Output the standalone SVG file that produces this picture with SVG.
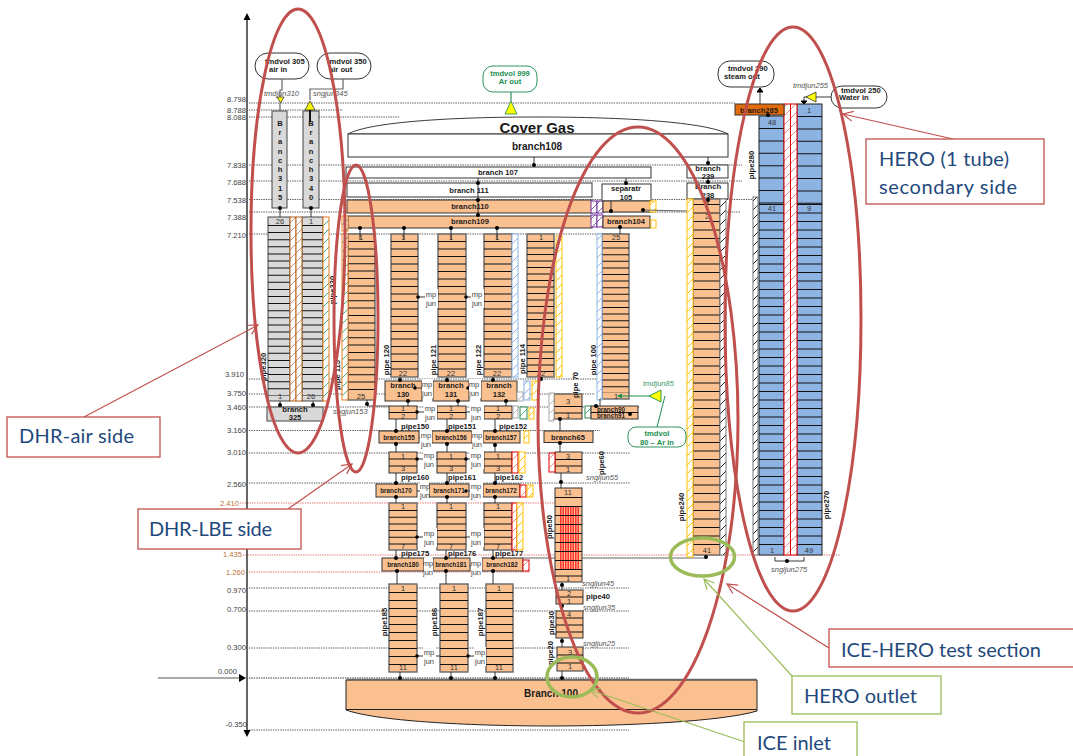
<svg xmlns="http://www.w3.org/2000/svg" width="1073" height="756" viewBox="0 0 1073 756">
<style>
text{font-family:"Liberation Sans",Arial,sans-serif;fill:#1a1a1a}
.lv{font-size:7.6px;fill:#404040;text-anchor:end}
.lvb{font-size:7.6px;fill:#b9703a;text-anchor:end}
.l{stroke:#333;stroke-width:.8;stroke-dasharray:1.4 1;fill:none}
.lb{stroke:#e05050;stroke-width:.8;stroke-dasharray:1.4 1;fill:none}
.b{font-size:7.6px;font-weight:bold;text-anchor:middle}
.bs{font-size:6.3px;font-weight:bold;text-anchor:middle}
.st{font-size:7.6px;font-weight:bold}
.stg{font-size:7.6px;font-weight:bold;fill:#1a8f50;text-anchor:middle}
.n{font-size:7.5px;fill:#333;text-anchor:middle}
.i{font-size:7.5px;font-style:italic;fill:#555}
.ig{font-size:7.5px;font-style:italic;fill:#3a9a68}
.r{font-size:7.6px;font-weight:bold;text-anchor:middle}
.mj{font-size:7.5px;fill:#444;text-anchor:middle}
.o{fill:#fac090;stroke:#333;stroke-width:1}
.g{fill:#d9d9d9;stroke:#444;stroke-width:1}
.w{fill:#fff;stroke:#333;stroke-width:1}
.bl{fill:#8db3e2;stroke:#222;stroke-width:1}
.sg{fill:#fac090;stroke:#666;stroke-width:1.4}
.c{fill:none;stroke:#111}
.rv{fill:#fff;stroke:#333;stroke-width:1}
.rvg{fill:#fff;stroke:#2e9460;stroke-width:1}
.y{fill:#ff0;stroke:#333;stroke-width:.8}
.cn{fill:none;stroke:#222;stroke-width:.9}
.cg{fill:none;stroke:#666;stroke-width:1.2}
.d{fill:#000}
.e{fill:none;stroke:#c0504d;stroke-width:3}
.eg{fill:none;stroke:#9bbb59;stroke-width:3.5}
.cbr{fill:#fff;stroke:#c0504d;stroke-width:1.3}
.cbg{fill:#fff;stroke:#9bbb59;stroke-width:1.3}
.ct{font-family:Lato,"Liberation Sans",sans-serif;font-size:20px;fill:#1f497d}
.ar{fill:none;stroke:#c0504d;stroke-width:1.2;marker-end:url(#mr)}
.ag{fill:none;stroke:#9bbb59;stroke-width:1.2;marker-end:url(#mg)}
.hY{fill:url(#phY);stroke:#ffc000;stroke-width:1}
.hB{fill:url(#phB);stroke:#8db4e2;stroke-width:1}
.hG{fill:url(#phG);stroke:#e87d1e;stroke-width:1}
.hGg{fill:url(#phG);stroke:#2e8b57;stroke-width:1}
.hP{fill:url(#phP);stroke:#7030a0;stroke-width:1}
.hR{fill:url(#phR);stroke:#e00000;stroke-width:1}
.hBr{fill:url(#phBr);stroke:#b5651d;stroke-width:1}
.hK{fill:url(#phK);stroke:#777;stroke-width:1}
.hGy{fill:url(#phGy);stroke:#aaa;stroke-width:1}
</style>
<defs>
<pattern id="phY" patternUnits="userSpaceOnUse" width="9" height="9"><rect width="9" height="9" fill="#fff"/><path d="M-1 10L10 -1" stroke="#ffc000" stroke-width="1"/></pattern>
<pattern id="phB" patternUnits="userSpaceOnUse" width="9" height="9"><rect width="9" height="9" fill="#fff"/><path d="M-1 10L10 -1" stroke="#8db4e2" stroke-width="1"/></pattern>
<pattern id="phG" patternUnits="userSpaceOnUse" width="9" height="9"><rect width="9" height="9" fill="#fff"/><path d="M-1 10L10 -1" stroke="#40b070" stroke-width="1"/></pattern>
<pattern id="phP" patternUnits="userSpaceOnUse" width="9" height="9"><rect width="9" height="9" fill="#fff"/><path d="M-1 10L10 -1" stroke="#8a5cb0" stroke-width="1"/></pattern>
<pattern id="phR" patternUnits="userSpaceOnUse" width="9" height="9"><rect width="9" height="9" fill="#fff"/><path d="M-1 10L10 -1" stroke="#e88" stroke-width="1"/></pattern>
<pattern id="phBr" patternUnits="userSpaceOnUse" width="9" height="9"><rect width="9" height="9" fill="#fff"/><path d="M-1 10L10 -1" stroke="#d09070" stroke-width="1"/></pattern>
<pattern id="phK" patternUnits="userSpaceOnUse" width="9" height="9"><rect width="9" height="9" fill="#fff"/><path d="M-1 10L10 -1" stroke="#222" stroke-width="1"/></pattern>
<pattern id="phGy" patternUnits="userSpaceOnUse" width="9" height="9"><rect width="9" height="9" fill="#fff"/><path d="M-1 10L10 -1" stroke="#bbb" stroke-width="1"/></pattern>
<marker id="mr" markerUnits="userSpaceOnUse" markerWidth="14" markerHeight="14" refX="11" refY="6" orient="auto"><path d="M1 1L11 6L1 11" fill="none" stroke="#c0504d" stroke-width="1.2"/></marker>
<marker id="mg" markerUnits="userSpaceOnUse" markerWidth="14" markerHeight="14" refX="11" refY="6" orient="auto"><path d="M1 1L11 6L1 11" fill="none" stroke="#9bbb59" stroke-width="1.2"/></marker>
</defs>
<rect width="1073" height="756" fill="#fff"/>

<g id="levels">
<path class="l" d="M249 103H735M249 110H343M249 117H400M249 165H742M249 181H742M249 199.500H755M249 212H740M249 234H630M249 379H600M249 394H595M249 407H640M249 430.500H600M249 453H630M249 483H630M249 588H629M249 611H629M249 648H629M249 730H629"/>
<path class="l" d="M249 678H629" style="stroke-width:1.4;stroke:#777"/>
<path class="lb" d="M240 503H556M243 555H840M249 572H530"/>
<text class="lv" x="246" y="102">8.798</text><text class="lv" x="246" y="113">8.788</text><text class="lv" x="246" y="120">8.088</text><text class="lv" x="246" y="168">7.838</text><text class="lv" x="246" y="185">7.688</text><text class="lv" x="246" y="203">7.538</text><text class="lv" x="246" y="220">7.388</text><text class="lv" x="246" y="238">7.210</text><text class="lv" x="244" y="377">3.910</text><text class="lv" x="246" y="396">3.750</text><text class="lv" x="246" y="410">3.460</text><text class="lv" x="246" y="433">3.160</text><text class="lv" x="246" y="455">3.010</text><text class="lv" x="246" y="487">2.560</text>
<text class="lvb" x="239" y="506">2.410</text><text class="lvb" x="242" y="557">1.435</text><text class="lvb" x="245" y="575">1.260</text>
<text class="lv" x="246" y="593">0.970</text><text class="lv" x="246" y="612">0.700</text><text class="lv" x="246" y="650">0.300</text><text class="lv" x="237" y="674">0.000</text><text class="lv" x="247" y="727">-0.350</text>
<path d="M247 732V19" stroke="#000" stroke-width="1.2" fill="none"/>
<path d="M243.500 20L247 13L250.500 20Z M243.500 730L247 737L250.500 730Z" fill="#000"/>
<path d="M158 678H240" stroke="#555" stroke-width="1.2"/>
<path d="M239 674L246 678L239 682Z" fill="#000"/>
</g>

<g id="tmdvol305"><rect class="rv" x="255" y="53" width="54" height="26" rx="13"/><text class="st" x="265" y="64">tmdvol 305</text><text class="st" x="269" y="71.500">air in</text></g>
<g id="tmdvol350"><rect class="rv" x="317" y="53" width="54" height="26" rx="13"/><text class="st" x="327" y="64">tmdvol 350</text><text class="st" x="329" y="71.500">air out</text></g>
<g id="branch315"><rect class="g" x="272" y="111" width="15" height="97"/><text class="b" x="280" y="126">B</text><text class="b" x="280" y="135">r</text><text class="b" x="280" y="144">a</text><text class="b" x="280" y="154">n</text><text class="b" x="280" y="163">c</text><text class="b" x="280" y="172">h</text><text class="b" x="280" y="181">3</text><text class="b" x="280" y="191">1</text><text class="b" x="280" y="200">5</text></g>
<g id="branch340"><rect class="g" x="303" y="111" width="16" height="97"/><text class="b" x="311" y="126">B</text><text class="b" x="311" y="135">r</text><text class="b" x="311" y="144">a</text><text class="b" x="311" y="154">n</text><text class="b" x="311" y="163">c</text><text class="b" x="311" y="172">h</text><text class="b" x="311" y="181">3</text><text class="b" x="311" y="191">4</text><text class="b" x="311" y="200">0</text></g>
<g id="pipe320"><rect class="g" x="268" y="217" width="22" height="184"/><path class="c" d="M279 225V396" stroke-width="22" stroke-dasharray="1 6.1"/><text class="n" x="280" y="224">26</text><text class="n" x="280" y="399">1</text><text class="r" transform="rotate(-90 266 367)" x="266" y="367">pipe320</text></g>
<g id="pipe330"><rect class="g" x="302" y="217" width="21" height="184"/><path class="c" d="M312.500 225V396" stroke-width="21" stroke-dasharray="1 6.1"/><text class="n" x="311" y="224">1</text><text class="n" x="311" y="399">26</text><text class="r" transform="rotate(-90 335 290)" x="335" y="290">pipe330</text></g>
<rect class="hBr" x="290" y="217" width="6" height="184"/><rect class="hBr" x="296" y="217" width="6" height="184"/><rect class="hG" x="323" y="217" width="6" height="184"/>
<g id="branch325"><rect class="g" x="267" y="407" width="56" height="14"/><text class="b" x="295" y="412">branch</text><text class="b" x="295" y="420">325</text></g>

<g id="tmdvol999"><rect class="rvg" x="483" y="66" width="54" height="26" rx="10"/><text class="stg" x="510" y="76">tmdvol 999</text><text class="stg" x="510" y="84">Ar out</text></g>
<g id="branch108"><path d="M348 134C370 122 450 117 537 117C625 117 705 122 728 134Z" fill="#fff" stroke="#222" stroke-width=".9"/><rect class="w" x="348" y="134" width="380" height="23"/><text x="537" y="133" font-size="15" font-weight="bold" text-anchor="middle" fill="#000">Cover Gas</text><text x="537" y="150" font-size="10" font-weight="bold" text-anchor="middle">branch108</text></g>
<g id="branch107"><rect class="w" x="346" y="167" width="305" height="11"/><text class="b" x="498" y="175">branch 107</text></g>
<g id="branch111"><rect class="w" x="347" y="183" width="245" height="14"/><text class="b" x="469" y="193">branch 111</text></g>
<g id="branch110"><rect class="o" x="347" y="200" width="245" height="13"/><text class="b" x="470" y="209">branch110</text></g>
<g id="branch109"><rect class="o" x="348" y="216" width="244" height="12"/><text class="b" x="470" y="224">branch109</text></g>
<rect class="hP" x="591" y="201" width="6" height="12"/><rect class="hP" x="597" y="201" width="6" height="12"/><rect class="hP" x="591" y="215" width="6" height="12"/><rect class="hP" x="597" y="215" width="6" height="12"/>
<g id="separatr105"><rect class="w" x="602" y="184" width="49" height="17"/><text class="b" x="626" y="191">separatr</text><text class="b" x="626" y="200">105</text><rect class="o" x="603" y="201" width="48" height="11"/><rect class="hY" x="650" y="201" width="6" height="11"/></g>
<g id="branch104"><rect class="o" x="603" y="216" width="47" height="12"/><text class="b" x="626" y="224">branch104</text><rect x="651" y="220" width="5" height="8" fill="#fff" stroke="#ffc000"/></g>

<g id="pipe115"><rect class="sg" x="348" y="234" width="27" height="166"/><path class="c" d="M361.500 241V396" stroke-width="27" stroke-dasharray="1 6.4"/><text class="n" x="361" y="240">1</text><text class="n" x="361" y="399">25</text><text class="r" transform="rotate(-90 340 375)" x="340" y="375">pipe 115</text><rect class="hG" x="342" y="216" width="6" height="15"/><rect class="hG" x="342" y="234" width="6" height="166"/></g>
<g id="pipe120"><rect class="sg" x="391" y="234" width="27" height="143"/><path class="c" d="M404.500 241V372" stroke-width="27" stroke-dasharray="1 6.5"/><text class="n" x="403" y="240">1</text><text class="n" x="403" y="376">22</text><text class="r" transform="rotate(-90 389 360)" x="389" y="360">pipe 120</text></g>
<g id="pipe121"><rect class="sg" x="438" y="234" width="28" height="143"/><path class="c" d="M452 241V372" stroke-width="28" stroke-dasharray="1 6.5"/><text class="n" x="451" y="240">1</text><text class="n" x="451" y="376">22</text><text class="r" transform="rotate(-90 436 360)" x="436" y="360">pipe 121</text></g>
<g id="pipe122"><rect class="sg" x="484" y="234" width="28" height="143"/><path class="c" d="M498 241V372" stroke-width="28" stroke-dasharray="1 6.5"/><text class="n" x="497" y="240">1</text><text class="n" x="497" y="376">22</text><text class="r" transform="rotate(-90 481 360)" x="481" y="360">pipe 122</text><rect class="hB" x="512" y="234" width="6" height="143"/></g>
<g id="pipe114"><rect class="sg" x="527" y="234" width="27" height="143"/><path class="c" d="M540.500 241V373" stroke-width="27" stroke-dasharray="1 5.500"/><text class="n" x="541" y="240">1</text><text class="n" x="541" y="376">22</text><text class="r" transform="rotate(-90 525 359)" x="525" y="359">pipe 114</text><rect class="hY" x="556" y="236" width="6" height="141"/></g>
<g id="pipe100"><rect class="sg" x="602" y="234" width="27" height="165"/><path class="c" d="M615.500 241V393" stroke-width="27" stroke-dasharray="1 5.600"/><text class="n" x="616" y="240">25</text><text class="n" x="616" y="399">1</text><text class="r" transform="rotate(-90 596 360)" x="596" y="360">pipe 100</text><rect class="hB" x="597" y="234" width="5" height="166"/></g>

<g id="branch130"><rect class="o" x="385" y="381" width="37" height="20"/><text class="b" x="403" y="388">branch</text><text class="b" x="403" y="397">130</text></g>
<g id="branch131"><rect class="o" x="433" y="381" width="36" height="20"/><text class="b" x="451" y="388">branch</text><text class="b" x="451" y="397">131</text></g>
<g id="branch132"><rect class="o" x="481" y="381" width="36" height="20"/><text class="b" x="499" y="388">branch</text><text class="b" x="499" y="397">132</text></g>
<rect class="hGy" x="517" y="392" width="6" height="9"/><rect class="hB" x="524" y="381" width="6" height="19"/><rect class="hY" x="532" y="381" width="6" height="19"/>

<g id="pipe150"><rect class="o" x="389" y="406" width="28" height="13"/><path class="c" d="M389 412.500H417"/><text class="n" x="403" y="411">1</text><text class="n" x="403" y="418.500">2</text><text class="st" x="401" y="429">pipe150</text></g>
<g id="pipe151"><rect class="o" x="437" y="406" width="29" height="13"/><path class="c" d="M437 412.500H466"/><text class="n" x="451" y="411">1</text><text class="n" x="451" y="418.500">2</text><text class="st" x="448" y="429">pipe151</text></g>
<g id="pipe152"><rect class="o" x="484" y="406" width="28" height="13"/><path class="c" d="M484 412.500H512"/><text class="n" x="498" y="411">1</text><text class="n" x="498" y="418.500">2</text><text class="st" x="499" y="429">pipe152</text><rect class="hGy" x="513" y="406" width="5" height="12"/><rect class="hGg" x="520" y="407" width="7" height="12"/><rect class="hY" x="529" y="408" width="5" height="11"/></g>

<g id="branch155"><rect class="o" x="379" y="431" width="40" height="12"/><text class="bs" x="399" y="439.500">branch155</text></g>
<g id="branch156"><rect class="o" x="432" y="431" width="40" height="12"/><text class="bs" x="451" y="439.500">branch156</text></g>
<g id="branch157"><rect class="o" x="483" y="431" width="37" height="12"/><text class="bs" x="501" y="439.500">branch157</text><rect class="hY" x="524" y="431" width="5" height="12"/></g>

<g id="pipe160"><rect class="o" x="389" y="452" width="28" height="21"/><path class="c" d="M389 459H417M389 466H417"/><text class="n" x="403" y="458.500">1</text><text class="n" x="403" y="471">3</text><text class="st" x="401" y="480">pipe160</text></g>
<g id="pipe161"><rect class="o" x="437" y="452" width="29" height="21"/><path class="c" d="M437 459H466M437 466H466"/><text class="n" x="451" y="458.500">1</text><text class="n" x="451" y="471">3</text><text class="st" x="448" y="480">pipe161</text></g>
<g id="pipe162"><rect class="o" x="484" y="452" width="28" height="21"/><path class="c" d="M484 459H512M484 466H512"/><text class="n" x="498" y="458.500">1</text><text class="n" x="498" y="471">3</text><text class="st" x="495" y="480">pipe162</text><rect class="hR" x="512" y="452" width="6" height="21"/><rect class="hY" x="519" y="452" width="6" height="21"/></g>

<g id="branch170"><rect class="o" x="376" y="484" width="41" height="13"/><text class="bs" x="396" y="493">branch170</text></g>
<g id="branch171"><rect class="o" x="429" y="484" width="40" height="13"/><text class="bs" x="449" y="493">branch171</text></g>
<g id="branch172"><rect class="o" x="483" y="484" width="37" height="13"/><text class="bs" x="501" y="493">branch172</text><rect class="hR" x="520" y="485" width="6" height="12"/><rect class="hY" x="527" y="485" width="6" height="12"/></g>

<g id="pipe175"><rect class="sg" x="389" y="503" width="28" height="47"/><path class="c" d="M403 510V545" stroke-width="28" stroke-dasharray="1 5.700"/><text class="n" x="403" y="509">1</text><text class="n" x="403" y="549">7</text><text class="st" x="401" y="556">pipe175</text></g>
<g id="pipe176"><rect class="sg" x="437" y="503" width="29" height="47"/><path class="c" d="M451.500 510V545" stroke-width="29" stroke-dasharray="1 5.700"/><text class="n" x="451" y="509">1</text><text class="n" x="451" y="549">7</text><text class="st" x="448" y="556">pipe176</text></g>
<g id="pipe177"><rect class="sg" x="484" y="503" width="28" height="47"/><path class="c" d="M498 510V545" stroke-width="28" stroke-dasharray="1 5.700"/><text class="n" x="498" y="509">1</text><text class="n" x="498" y="549">7</text><text class="st" x="495" y="556">pipe177</text><rect class="hR" x="512" y="503" width="5" height="47"/><rect class="hY" x="517" y="503" width="6" height="47"/></g>

<g id="branch180"><rect class="o" x="382" y="558" width="42" height="13"/><text class="bs" x="403" y="567">branch180</text></g>
<g id="branch181"><rect class="o" x="433" y="558" width="37" height="13"/><text class="bs" x="451" y="567">branch181</text></g>
<g id="branch182"><rect class="o" x="482" y="558" width="41" height="13"/><text class="bs" x="502" y="567">branch182</text><rect class="hR" x="523" y="560" width="6" height="11"/></g>

<g id="pipe185"><rect class="sg" x="389" y="584" width="28" height="88"/><path class="c" d="M403 592V665" stroke-width="28" stroke-dasharray="1 7"/><text class="n" x="403" y="591">1</text><text class="n" x="403" y="670">11</text><text class="r" transform="rotate(-90 387 622)" x="387" y="622">pipe185</text></g>
<g id="pipe186"><rect class="sg" x="440" y="584" width="28" height="88"/><path class="c" d="M454 592V665" stroke-width="28" stroke-dasharray="1 7"/><text class="n" x="454" y="591">1</text><text class="n" x="454" y="670">11</text><text class="r" transform="rotate(-90 437 622)" x="437" y="622">pipe186</text></g>
<g id="pipe187"><rect class="sg" x="486" y="584" width="27" height="88"/><path class="c" d="M499.500 592V665" stroke-width="27" stroke-dasharray="1 7"/><text class="n" x="499" y="591">1</text><text class="n" x="499" y="670">11</text><text class="r" transform="rotate(-90 483 622)" x="483" y="622">pipe187</text></g>

<g id="branch100"><path d="M346 680H757V711C720 722 620 726 551 726C480 726 380 722 346 710Z" fill="#fac090" stroke="#222" stroke-width="1"/><path d="M346 709.500H757" stroke="#222"/><path d="M346 679.500H757" stroke="#666" stroke-width="1.400"/><text x="551" y="697" font-size="10" font-weight="bold" text-anchor="middle">Branch 100</text></g>

<path class="cg" d="M523 558H706" stroke-width="1.5"/>
<g id="pipe70"><rect class="o" x="554" y="394" width="28" height="25"/><path class="c" d="M554 406.500H582M554 413H582"/><text class="n" x="568" y="404">3</text><text class="n" x="568" y="418">1</text><text class="r" transform="rotate(-90 578 385)" x="578" y="385">pipe 70</text><rect class="hGy" x="549" y="393" width="5" height="28"/><rect class="hGg" x="585" y="406" width="6" height="12"/></g>
<g id="branch90"><rect class="o" x="591" y="406" width="47" height="13"/><path class="c" d="M591 412.500H638"/><text class="bs" x="611" y="411.500">branch90</text><text class="bs" x="611" y="418">branch91</text></g>
<g id="branch65"><rect class="o" x="544" y="431" width="49" height="11.500"/><text class="b" x="568" y="439.500">branch65</text></g>
<g id="pipe60"><rect class="o" x="555" y="452" width="27" height="21"/><path class="c" d="M555 459.500H582M555 466H582"/><text class="n" x="568" y="458.500">3</text><text class="n" x="568" y="472">1</text><rect class="hR" x="549" y="453" width="6" height="19"/><text class="r" transform="rotate(-90 604 463)" x="604" y="463">pipe60</text></g>
<g id="pipe50"><rect class="o" x="555" y="488" width="27" height="94"/><path d="M560 537.500H580" stroke="#f33" stroke-width="63" stroke-dasharray="1.500 1"/><path class="c" d="M568.500 497V571" stroke-width="27" stroke-dasharray="1 8"/><path class="c" d="M555 576H582"/><text class="n" x="568" y="495">11</text><text class="n" x="568" y="581">1</text><text class="r" transform="rotate(-90 552 527)" x="552" y="527">pipe50</text></g>
<g id="pipe40"><rect class="o" x="556" y="590" width="27" height="14"/><path class="c" d="M556 597H583"/><text class="n" x="569" y="595.500">2</text><text class="n" x="569" y="603.500">1</text><text class="st" x="586" y="599">pipe40</text></g>
<g id="pipe30"><rect class="o" x="556" y="611" width="27" height="27"/><path class="c" d="M556 618H583M556 625H583M556 632H583"/><text class="n" x="569" y="617">4</text><text class="r" transform="rotate(-90 554 623)" x="554" y="623">pipe30</text></g>
<g id="pipe20"><rect class="o" x="557" y="647" width="26" height="24"/><path class="c" d="M557 655H583M557 663H583"/><text class="n" x="570" y="655">3</text><text class="n" x="570" y="669">1</text><text class="r" transform="rotate(-90 553 653)" x="553" y="653">pipe20</text></g>

<g id="branch239"><rect class="w" x="687" y="165" width="41" height="13"/><text class="b" x="708" y="171">branch</text><text class="b" x="708" y="179">239</text></g>
<g id="branch238"><rect class="w" x="687" y="183" width="41" height="16"/><text class="b" x="708" y="189">Branch</text><text class="b" x="708" y="198">238</text></g>
<g id="pipe240"><rect class="sg" x="693" y="199" width="27" height="356"/><path class="c" d="M706.500 204V548" stroke-width="27" stroke-dasharray="1 7.500"/><text class="n" x="707" y="219">2</text><text class="n" x="707" y="553">41</text><text class="r" transform="rotate(-90 684 507)" x="684" y="507">pipe240</text><rect class="hY" x="687" y="199" width="6" height="358"/><rect class="hK" x="720" y="199" width="6" height="356"/></g>

<g id="pipe280"><rect class="bl" x="759" y="116" width="25" height="439"/><path class="c" d="M771.500 128V204" stroke-width="25" stroke-dasharray="1 11.400"/><path class="c" d="M771.500 204V548" stroke-width="25" stroke-dasharray="1 7.500"/><text class="n" x="772" y="125">48</text><text class="n" x="772" y="211">41</text><text class="n" x="772" y="553">1</text><text class="r" transform="rotate(-90 754 165)" x="754" y="165">pipe280</text><rect class="hK" x="753" y="197" width="5" height="358"/></g>
<g id="pipe270"><rect class="bl" x="797" y="104" width="25" height="451"/><path class="c" d="M809.500 116V204" stroke-width="25" stroke-dasharray="1 11.400"/><path class="c" d="M809.500 204V548" stroke-width="25" stroke-dasharray="1 7.500"/><text class="n" x="809" y="113">1</text><text class="n" x="809" y="211">9</text><text class="n" x="809" y="553">49</text><text class="r" transform="rotate(-90 829 505)" x="829" y="505">pipe270</text></g>
<rect class="hR" x="784" y="104" width="6.500" height="451"/><rect class="hR" x="790.500" y="104" width="6.500" height="451"/>
<g id="branch285"><rect x="735" y="104" width="49" height="11" fill="#e36c0a" stroke="#333"/><text class="b" x="759" y="112.500">branch285</text></g>
<g id="tmdvol290"><rect class="rv" x="718" y="61" width="56" height="26" rx="12"/><text class="st" x="728" y="71">tmdvol 290</text><text class="st" x="724" y="79">steam out</text></g>
<g id="tmdvol250"><rect class="rv" x="831" y="86" width="56" height="22" rx="11"/><text class="st" x="841" y="93">tmdvol 250</text><text class="st" x="839" y="100">Water in</text></g>
<g id="tmdvol80"><rect class="rvg" x="628" y="427" width="58" height="20" rx="8"/><text class="stg" x="657" y="436">tmdvol</text><text class="stg" x="657" y="445">80 – Ar in</text></g>

<g id="connectors">
<path class="cg" d="M282 79V90H280V97M280 103V111"/>
<polygon class="y" points="277,97 284,97 280.500,103"/>
<path class="cg" d="M343 79V89H310V100"/>
<polygon class="y" points="305,110 315,110 310,101"/>
<path d="M310 110V122" stroke="#000" stroke-width="1.800"/>
<path class="cn" d="M280 208V217M311 208V217M280 401V406M313 401V406"/>
<path class="cg" d="M511 92V101" style="stroke:#2e9460"/>
<polygon points="505,114 517,114 511,101" fill="#ff0" stroke="#2e9460" stroke-width=".9"/>
<path class="cn" d="M534 157V167M478 178V216M626 178V184M708 157V165M708 178V183M708 199V204"/>
<path class="cn" d="M611 201V211M620 227V234M360 228V240M404 228V240M451 228V240M497 228V240"/>
<path class="cg" d="M643 210L687 211"/>
<path class="cn" d="M400 377V381M447 377V381M493 377V381M408 401V406M458 401V406M506 401V406M396 419V431M447 419V431M495 419V431M396 443V452M447 443V452M495 443V452M396 473V484M447 473V484M495 473V484M396 497V503M447 497V503M495 497V503M396 550V558M446 550V558M493 550V558M397 571V584M446 571V584M493 571V584M400 672V678M451 672V678M495 672V678"/>
<path class="cn" d="M367 400V404M540 377V381"/>
<path class="cg" d="M367 406H389"/>
<path class="cn" d="M560 419V431M560 442V452M561 473V488M562 582V590M562 604V611M562 638V647M562 671V679M600 399V406"/>
<path class="cn" d="M418 297H438M466 297H484M417 388H433M469 388H481M417 412H437M466 412H484M419 438H432M472 438H483M417 459H437M466 459H484M417 491H429M469 491H483M417 537H437M466 537H484M424 566H433M470 566H482M417 656H440M468 656H486"/>
<path class="cn" d="M760 104V90M804 104V97H808"/>
<path d="M757 92L760 88L763 92Z" fill="#000" stroke="#000"/>
<path d="M801 101H807L804 104Z" fill="#000" stroke="#000"/>
<path class="cn" d="M816 97H831"/>
<polygon class="y" points="806,97 816,92 816,102"/>
<path d="M768 115V117" stroke="#000"/>
<path d="M775 557V561H804V557" class="cn"/>
<path d="M661 396H618" stroke="#1a8f50" stroke-width="1" fill="none"/>
<path d="M622 393.500L617 396L622 398.500Z" fill="#1a8f50"/>
<polygon points="649,396 661,390 661,402" fill="#ff0" stroke="#1a8f50" stroke-width=".9"/>
<path d="M665 396L657 427" stroke="#1a8f50" stroke-width="1" fill="none"/>
<g class="d">
<circle cx="280" cy="208" r="2"/><circle cx="311" cy="208" r="2"/><circle cx="280" cy="405" r="2"/><circle cx="313" cy="405" r="2"/>
<circle cx="534" cy="165" r="2"/><circle cx="478" cy="183" r="2"/><circle cx="478" cy="200" r="2"/><circle cx="478" cy="215" r="2"/><circle cx="626" cy="183" r="2"/><circle cx="611" cy="211" r="2"/><circle cx="643" cy="210" r="2"/><circle cx="620" cy="227" r="2"/>
<circle cx="360" cy="228" r="2"/><circle cx="404" cy="228" r="2"/><circle cx="451" cy="228" r="2"/><circle cx="497" cy="228" r="2"/>
<circle cx="400" cy="380" r="2"/><circle cx="447" cy="380" r="2"/><circle cx="493" cy="380" r="2"/><circle cx="541" cy="379" r="2"/><circle cx="367" cy="404" r="2"/>
<circle cx="408" cy="401" r="2"/><circle cx="458" cy="401" r="2"/><circle cx="506" cy="401" r="2"/>
<circle cx="396" cy="431" r="2"/><circle cx="447" cy="431" r="2"/><circle cx="495" cy="431" r="2"/>
<circle cx="396" cy="444" r="2"/><circle cx="447" cy="444" r="2"/><circle cx="495" cy="445" r="2"/>
<circle cx="396" cy="483" r="2"/><circle cx="447" cy="483" r="2"/><circle cx="495" cy="483" r="2"/>
<circle cx="396" cy="497" r="2"/><circle cx="447" cy="497" r="2"/><circle cx="495" cy="497" r="2"/>
<circle cx="396" cy="558" r="2"/><circle cx="446" cy="558" r="2"/><circle cx="493" cy="558" r="2"/>
<circle cx="397" cy="571" r="2"/><circle cx="446" cy="571" r="2"/><circle cx="493" cy="571" r="2"/>
<circle cx="400" cy="678" r="2"/><circle cx="451" cy="678" r="2"/><circle cx="495" cy="678" r="2"/>
<circle cx="560" cy="443" r="2"/><circle cx="560" cy="419" r="2"/><circle cx="561" cy="482" r="2"/><circle cx="562" cy="585" r="2"/><circle cx="562" cy="606" r="2"/><circle cx="562" cy="641" r="2"/><circle cx="562" cy="678" r="2"/>
<circle cx="596" cy="406" r="2"/><circle cx="630" cy="414" r="2"/>
<circle cx="708" cy="163" r="2"/><circle cx="708" cy="182" r="2"/><circle cx="708" cy="200" r="2"/><circle cx="706" cy="557" r="2"/>
<circle cx="768" cy="115" r="2"/><circle cx="787" cy="561" r="2"/>
<circle cx="418" cy="297" r="1.800"/><circle cx="466" cy="297" r="1.800"/><circle cx="415" cy="388" r="1.800"/><circle cx="417" cy="412" r="1.800"/><circle cx="417" cy="459" r="1.800"/><circle cx="466" cy="459" r="1.800"/><circle cx="417" cy="537" r="1.800"/><circle cx="466" cy="491" r="1.800"/><circle cx="417" cy="656" r="1.800"/><circle cx="468" cy="656" r="1.800"/><circle cx="468" cy="388" r="1.800"/>
</g>
</g>

<g id="mp-jun">
<g fill="#fff">
<rect x="425" y="289" width="13" height="19"/><rect x="471" y="289" width="13" height="19"/><rect x="422" y="379" width="11" height="19"/><rect x="469" y="379" width="12" height="19"/><rect x="424" y="403" width="13" height="19"/><rect x="470" y="403" width="14" height="19"/><rect x="420" y="430" width="12" height="19"/><rect x="472" y="430" width="11" height="19"/><rect x="423" y="450" width="13" height="19"/><rect x="470" y="450" width="14" height="19"/><rect x="420" y="481" width="9" height="19"/><rect x="470" y="481" width="13" height="19"/><rect x="423" y="528" width="14" height="19"/><rect x="470" y="528" width="14" height="19"/><rect x="424" y="558" width="9" height="19"/><rect x="471" y="558" width="11" height="19"/><rect x="423" y="647" width="13" height="19"/><rect x="474" y="647" width="12" height="19"/>
</g>
<text class="mj" x="431" y="297">mp</text><text class="mj" x="431" y="306">jun</text><text class="mj" x="477" y="297">mp</text><text class="mj" x="477" y="306">jun</text>
<text class="mj" x="427" y="387">mp</text><text class="mj" x="427" y="396">jun</text><text class="mj" x="474" y="387">mp</text><text class="mj" x="474" y="396">jun</text>
<text class="mj" x="430" y="411">mp</text><text class="mj" x="430" y="420">jun</text><text class="mj" x="476" y="411">mp</text><text class="mj" x="476" y="420">jun</text>
<text class="mj" x="426" y="438">mp</text><text class="mj" x="426" y="447">jun</text><text class="mj" x="477" y="438">mp</text><text class="mj" x="477" y="447">jun</text>
<text class="mj" x="429" y="458">mp</text><text class="mj" x="429" y="467">jun</text><text class="mj" x="476" y="458">mp</text><text class="mj" x="476" y="467">jun</text>
<text class="mj" x="425" y="489">mp</text><text class="mj" x="425" y="498">jun</text><text class="mj" x="476" y="489">mp</text><text class="mj" x="476" y="498">jun</text>
<text class="mj" x="429" y="536">mp</text><text class="mj" x="429" y="545">jun</text><text class="mj" x="476" y="536">mp</text><text class="mj" x="476" y="545">jun</text>
<text class="mj" x="428" y="566">mp</text><text class="mj" x="428" y="575">jun</text><text class="mj" x="476" y="566">mp</text><text class="mj" x="476" y="575">jun</text>
<text class="mj" x="429" y="655">mp</text><text class="mj" x="429" y="664">jun</text><text class="mj" x="480" y="655">mp</text><text class="mj" x="480" y="664">jun</text>
</g>

<g id="junction-labels">
<text class="i" x="264" y="96">tmdjun310</text><text class="i" x="313" y="96">sngjun345</text><text class="i" x="333" y="414">sngjun153</text><text class="i" x="793" y="88">tmdjun255</text><text class="i" x="586" y="480">sngljun55</text><text class="i" x="582" y="586">sngljun45</text><text class="i" x="583" y="610">sngljun35</text><text class="i" x="583" y="646">sngljun25</text><text class="i" x="771" y="572">sngljun275</text><text class="ig" x="643" y="386">tmdjun85</text>
</g>

<g id="annotations">
<ellipse class="e" cx="298" cy="231" rx="47" ry="222"/>
<ellipse class="e" cx="356" cy="318.500" rx="22" ry="153.500"/>
<ellipse class="e" cx="638" cy="420" rx="100" ry="293"/>
<ellipse class="e" cx="793" cy="319" rx="68" ry="292"/>
<ellipse class="eg" cx="702.500" cy="557" rx="32" ry="19"/>
<ellipse class="eg" cx="572" cy="677" rx="25" ry="20"/>
<path class="ar" d="M84 417L258 325"/>
<path class="ar" d="M288 509L352 464"/>
<path class="ar" d="M953 139L843 114"/>
<path class="ar" d="M829 648L727 584"/>
<path class="ag" d="M792 676L704 579"/>
<path class="ag" d="M745 742L590 690"/>
<g id="callout-dhr-air"><rect class="cbr" x="7" y="417" width="153" height="40"/><text class="ct" x="19" y="443" textLength="115">DHR-air side</text></g>
<g id="callout-dhr-lbe"><rect class="cbr" x="138" y="509" width="163" height="40"/><text class="ct" x="149" y="536" textLength="123">DHR-LBE side</text></g>
<g id="callout-hero"><rect class="cbr" x="866" y="139" width="178" height="65"/><text class="ct" x="879" y="166" textLength="130">HERO (1 tube)</text><text class="ct" x="879" y="194" textLength="138">secondary side</text></g>
<g id="callout-ice-hero"><rect class="cbr" x="829" y="629" width="250" height="38"/><text class="ct" x="841" y="657" textLength="200">ICE-HERO test section</text></g>
<g id="callout-hero-outlet"><rect class="cbg" x="792" y="676" width="149" height="38"/><text class="ct" x="804" y="703" textLength="113">HERO outlet</text></g>
<g id="callout-ice-inlet"><rect class="cbg" x="744" y="722" width="113" height="40"/><text class="ct" x="757" y="750" textLength="74">ICE inlet</text></g>
</g>
</svg>
